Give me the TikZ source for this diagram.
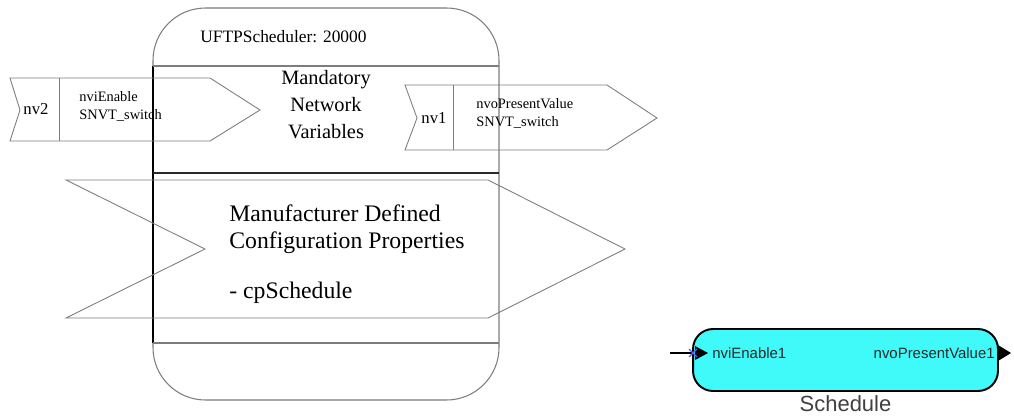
\documentclass[tikz,border=0pt]{standalone}
\usepackage{fontspec}
\setmainfont{Liberation Serif}
\newfontfamily\arialfont{Liberation Sans}
\definecolor{ufLine}{RGB}{125, 125, 125}
\definecolor{ufDark}{RGB}{40, 40, 40}
\definecolor{ufCyan}{RGB}{64, 250, 250}
\definecolor{ufCross}{RGB}{90, 90, 255}
\usetikzlibrary{positioning}
\tikzset{
  frameline/.style={draw=ufLine, line width=0.6pt},
  nvshape/.style={draw=ufLine, line width=0.5pt},
  nvname/.style={inner sep=0pt, font=\rmfamily\fontsize{9.5}{11}\selectfont},
  nvtype/.style={inner sep=0pt, align=left, anchor=west, font=\rmfamily\fontsize{8.2}{10.2}\selectfont},
  sectiontext/.style={inner sep=0pt, align=#1, font=\rmfamily\fontsize{11.6}{15.4}\selectfont},
  sectiontext/.default=center,
  schedblock/.style={rectangle, rounded corners=0.4cm, draw=black, line width=1.1pt, fill=ufCyan, minimum width=6.1cm, minimum height=1.24cm},
  portlabel/.style={inner sep=0pt, font=\arialfont\fontsize{8.5}{10}\selectfont, text=ufDark},
  portnode/.style={inner sep=0pt, minimum size=0pt},
}

\begin{document}
\begin{tikzpicture}[x=0.02cm, y=-0.02cm]
  \useasboundingbox (0,0) rectangle (1014,416);

  % block frame and sections
  \draw[frameline, rounded corners=1.05cm] (153,8) rectangle (499,400);
  \draw[black, line width=0.6pt] (153,66) -- (153,343);
  \draw[frameline] (153,66) -- (499,66);
  \draw[ufDark, line width=0.8pt] (153,173) -- (499,173);
  \draw[frameline] (153,343) -- (499,343);

  \node[sectiontext, anchor=west, font=\rmfamily\fontsize{9.9}{12}\selectfont] (title) at (200,37) {UFTPScheduler: 20000};
  \node[sectiontext] (mandatory) at (326,105) {Mandatory\\Network\\Variables};

  % input network variable
  \draw[nvshape] (10,78) -- (210,78) -- (260,110) -- (210,141) -- (10,141) -- (20,110) -- cycle;
  \draw[nvshape] (59,78) -- (59,141);
  \node[nvname] (nvTwo) at (36,109) {nv2};
  \node[nvtype] (nviEnable) at (79,106) {nviEnable\\SNVT\_switch};

  % output network variable
  \draw[nvshape] (405,85) -- (607,85) -- (657,118) -- (607,150) -- (405,150) -- (417,118) -- cycle;
  \draw[nvshape] (453,85) -- (453,150);
  \node[nvname] (nvOne) at (434,118) {nv1};
  \node[nvtype] (nvoPresent) at (476,113) {nvoPresentValue\\SNVT\_switch};

  % configuration properties
  \draw[nvshape] (66,180) -- (488,180) -- (625,249) -- (488,318) -- (66,318) -- (205,249) -- cycle;
  \node[sectiontext=left, anchor=north west, font=\rmfamily\fontsize{13.5}{15.9}\selectfont] (mfgProps) at (229,204)
    {Manufacturer Defined\\Configuration Properties\\[12pt]- cpSchedule};

  % schedule block
  \node[schedblock] (sched) at (845.5,360) {};
  \node[below=0.07cm of sched, inner sep=0pt, font=\arialfont\fontsize{12.5}{14}\selectfont, text=black!75] (schedName) {Schedule};
  \node[portnode] (pin) at (693,353) {};
  \node[portnode] (pout) at (998,353) {};
  \coordinate (inFree) at (670,353);
  \draw[black, line width=0.8pt] (inFree) -- (pin);
  \fill[black] (pin.center) ++(2,-7) -- ++(13,7) -- ++(-13,7) -- cycle;
  \draw[ufCross, line width=0.7pt] (pin.center) ++(-4,-4) -- ++(8,8) ++(-8,0) -- ++(8,-8);
  \fill[black] (pout.center) ++(0,-8) -- ++(13,8) -- ++(-13,8) -- cycle;
  \node[portlabel, anchor=west] (nviEnableOne) at (712,353) {nviEnable1};
  \node[portlabel, anchor=east] (nvoPresentOne) at (995,353) {nvoPresentValue1};
\end{tikzpicture}
\end{document}
